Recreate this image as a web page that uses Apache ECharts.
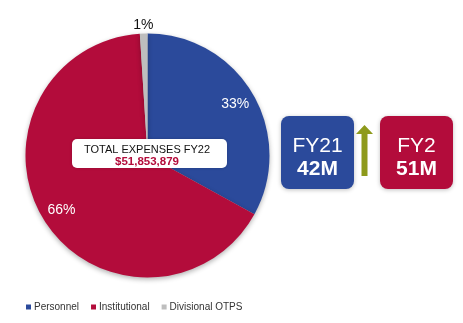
<!DOCTYPE html>
<html>
<head>
<meta charset="utf-8">
<style>html,body{margin:0;padding:0;background:#fff;}#c{width:463px;height:323px;}</style>
<script src="https://cdn.jsdelivr.net/npm/echarts@6/dist/echarts.min.js"></script>
</head>
<body>
<div id="c"></div>
<script>
const categories = ['Personnel', 'Institutional', 'Divisional OTPS'];
const shares = [33, 66, 1];
const sliceColors = ['#2B4A9B', '#B30C3B', '#BEBEBE'];
const totalTitle = 'TOTAL EXPENSES FY22';
const totalValue = '$51,853,879';
const fyNames = ['FY21', 'FY2'];
const fyTotals = ['42M', '51M'];

const FONT = '"Liberation Sans", Arial, Helvetica, sans-serif';
const chart = echarts.init(document.getElementById('c'), null, {renderer: 'canvas'});

const mainData = categories.map((n, i) => ({name: n, value: shares[i], itemStyle: {color: sliceColors[i]}}));
// labels inside the large slices (white) and just outside the small slice (dark)
const innerLabelData = categories.map((n, i) => ({name: n, value: shares[i], label: {show: i !== 2}}));
const outerLabelData = categories.map((n, i) => ({name: n, value: shares[i], label: {show: i === 2}}));

const CX = 147.5, CY = 155.5, R = 122;

function fyBox(x, color, name, total) {
  return {
    type: 'group', left: x, top: 116,
    children: [
      {type: 'rect', z: 100, shape: {x: 0, y: 0, width: 73, height: 73, r: 8},
       style: {fill: color, shadowBlur: 4, shadowColor: 'rgba(0,0,0,0.25)', shadowOffsetY: 1}},
      {type: 'text', z: 101, style: {x: 36.5, y: 30, text: name, fill: '#fff', font: '21px ' + FONT, align: 'center', verticalAlign: 'middle'}},
      {type: 'text', z: 101, style: {x: 36.5, y: 53, text: total, fill: '#fff', font: 'bold 21px ' + FONT, align: 'center', verticalAlign: 'middle'}}
    ]
  };
}

chart.setOption({
  animation: false,
  backgroundColor: '#fff',
  legend: {
    data: categories, left: 21, top: 297, icon: 'rect', itemWidth: 5, itemHeight: 5, itemGap: 12,
    textStyle: {fontSize: 10, color: '#333', fontFamily: FONT, padding: [0, 0, 0, -2]}
  },
  series: [
    {
      type: 'pie', center: [CX, CY], radius: [0, R], startAngle: 90, clockwise: true,
      label: {show: false}, labelLine: {show: false}, silent: true,
      itemStyle: {shadowBlur: 5, shadowColor: 'rgba(0,0,0,0.3)', shadowOffsetY: 2},
      data: mainData
    },
    {
      type: 'pie', center: [CX, CY], radius: [R * 0.62, R], startAngle: 90, clockwise: true, silent: true,
      itemStyle: {color: 'rgba(0,0,0,0)'}, labelLine: {show: false},
      label: {position: 'inside', formatter: '{c}%', fontFamily: FONT, fontSize: 14, color: '#fff'},
      data: innerLabelData
    },
    {
      type: 'pie', center: [CX, CY], radius: [R, R + 10], startAngle: 90, clockwise: true, silent: true,
      itemStyle: {color: 'rgba(0,0,0,0)'}, labelLine: {show: false},
      label: {position: 'inside', formatter: '{c}%', fontFamily: FONT, fontSize: 14, color: '#111'},
      data: outerLabelData
    }
  ],
  graphic: [
    {type: 'group', left: 72, top: 139, children: [
      {type: 'rect', z: 100, shape: {x: 0, y: 0, width: 155, height: 29, r: 5}, style: {fill: '#fff', shadowBlur: 3, shadowColor: 'rgba(0,0,0,0.2)'}},
      {type: 'text', z: 101, style: {x: 75, y: 10.5, text: totalTitle, fill: '#111', font: '11px ' + FONT, align: 'center', verticalAlign: 'middle'}},
      {type: 'text', z: 101, style: {x: 75, y: 22.5, text: totalValue, fill: '#B30C3B', font: 'bold 11.5px ' + FONT, align: 'center', verticalAlign: 'middle'}}
    ]},
    fyBox(281, '#2B4A9B', fyNames[0], fyTotals[0]),
    fyBox(380, '#B30C3B', fyNames[1], fyTotals[1]),
    {type: 'polygon', z: 100, shape: {points: [[364.5, 125], [373, 134], [367.5, 134], [367.5, 176], [361.5, 176], [361.5, 134], [356, 134]]},
     style: {fill: '#8E9A1C'}}
  ]
});
</script>
</body>
</html>
